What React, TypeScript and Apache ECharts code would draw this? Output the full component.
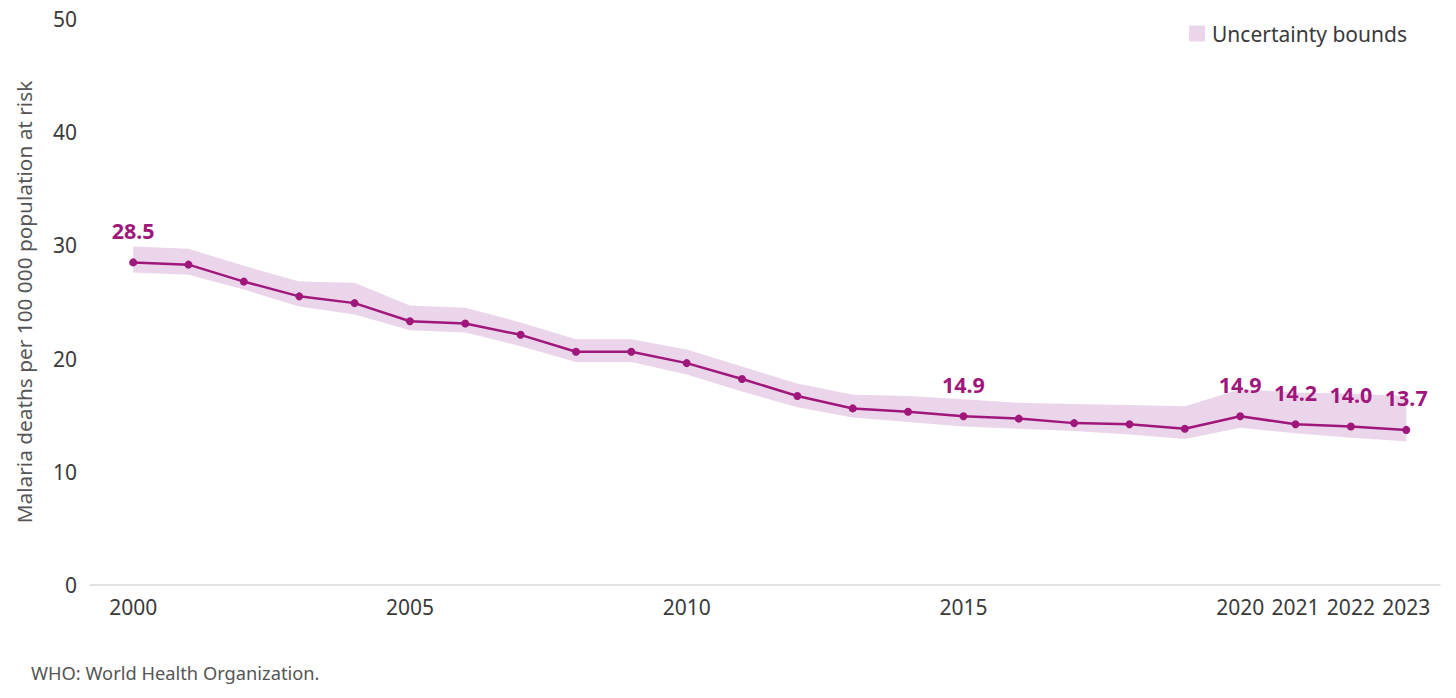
import React, { useEffect, useRef } from "react";
import * as echarts from "echarts";

const years = [2000, 2001, 2002, 2003, 2004, 2005, 2006, 2007, 2008, 2009, 2010, 2011, 2012, 2013, 2014, 2015, 2016, 2017, 2018, 2019, 2020, 2021, 2022, 2023];
const deathRate = [28.5, 28.3, 26.8, 25.5, 24.9, 23.3, 23.1, 22.1, 20.6, 20.6, 19.6, 18.2, 16.7, 15.6, 15.3, 14.9, 14.7, 14.3, 14.2, 13.8, 14.9, 14.2, 14.0, 13.7];
const upperBound = [29.9, 29.7, 28.2, 26.8, 26.7, 24.7, 24.5, 23.2, 21.7, 21.7, 20.8, 19.3, 17.8, 16.8, 16.7, 16.4, 16.1, 16.0, 15.9, 15.8, 17.3, 17.0, 16.9, 16.7];
const lowerBound = [27.6, 27.4, 26.1, 24.6, 23.9, 22.5, 22.3, 21.1, 19.7, 19.7, 18.6, 17.1, 15.7, 14.8, 14.4, 14.0, 13.8, 13.6, 13.3, 12.9, 13.9, 13.4, 13.0, 12.7];
const labeledYears = [2000, 2015, 2020, 2021, 2022, 2023];
const xTickYears = [2000, 2005, 2010, 2015, 2020, 2021, 2022, 2023];
const yAxisTitle = "Malaria deaths per 100 000 population at risk";
const bandName = "Uncertainty bounds";
const footerText = "WHO: World Health Organization.";

const LINE_COLOR = "#a0177b";
const BAND_COLOR = "#ebd5ea";
const TEXT_COLOR = "#3a3a3a";
const FONT = "'Noto Sans', sans-serif";

export default function App() {
  const ref = useRef<HTMLDivElement>(null);

  useEffect(() => {
    if (!ref.current) return;
    const chart = echarts.init(ref.current, null, { renderer: "svg" });

    const bandData = years.map((y, i) => [y, upperBound[i], lowerBound[i]]);
    const lineData = years.map((y, i) => ({
      value: [y, deathRate[i]],
      label: { show: labeledYears.includes(y) },
    }));

    chart.setOption({
      animation: false,
      textStyle: { fontFamily: FONT },
      grid: { left: 90, right: 16, top: 19, bottom: 113 },
      legend: {
        top: 18,
        right: 44,
        icon: "rect",
        itemWidth: 16,
        itemHeight: 16,
        itemGap: 10,
        data: [bandName],
        textStyle: { fontSize: 21, color: TEXT_COLOR, fontFamily: FONT, padding: [0, 0, 0, 2] },
      },
      xAxis: {
        type: "value",
        min: 1999.22,
        max: 2023.61,
        splitLine: { show: false },
        axisTick: { show: false },
        axisLine: { show: true, onZero: false, lineStyle: { color: "#d9d9d9", width: 1.5 } },
        axisLabel: {
          customValues: xTickYears,
          formatter: (v: number) => String(v),
          fontSize: 21,
          color: TEXT_COLOR,
          margin: 11,
          fontFamily: FONT,
        },
      },
      yAxis: {
        type: "value",
        min: 0,
        max: 50,
        interval: 10,
        splitLine: { show: false },
        axisLine: { show: false },
        axisTick: { show: false },
        axisLabel: { fontSize: 21, color: TEXT_COLOR, margin: 13, fontFamily: FONT },
        name: yAxisTitle,
        nameLocation: "middle",
        nameGap: 56,
        nameTextStyle: { fontSize: 20.8, color: "#555", fontFamily: FONT },
      },
      graphic: [
        {
          type: "text",
          left: 31,
          top: 663,
          style: { text: footerText, fontSize: 18.3, fill: "#555", fontFamily: FONT },
        },
      ],
      series: [
        {
          name: bandName,
          type: "custom",
          data: bandData,
          encode: { x: 0, y: [1, 2] },
          itemStyle: { color: BAND_COLOR },
          silent: true,
          z: 1,
          renderItem: (params: any, api: any) => {
            if (params.dataIndex !== 0) return null;
            const top = years.map((y, i) => api.coord([y, upperBound[i]]));
            const bottom = years.map((y, i) => api.coord([y, lowerBound[i]])).reverse();
            return {
              type: "polygon",
              shape: { points: top.concat(bottom) },
              style: { fill: BAND_COLOR },
            };
          },
        },
        {
          name: "Malaria deaths",
          type: "line",
          data: lineData,
          z: 3,
          symbol: "circle",
          symbolSize: 8,
          itemStyle: { color: LINE_COLOR },
          lineStyle: { color: LINE_COLOR, width: 2.5 },
          label: {
            show: false,
            position: "top",
            distance: 17,
            fontSize: 21.5,
            fontWeight: "bold",
            color: LINE_COLOR,
            fontFamily: FONT,
            formatter: (p: any) => Number(p.value[1]).toFixed(1),
          },
        },
      ],
    });

    return () => chart.dispose();
  }, []);

  return (
    <div
      ref={ref}
      style={{ position: "fixed", left: 0, top: 0, width: 1456, height: 698, background: "#fff" }}
    />
  );
}
